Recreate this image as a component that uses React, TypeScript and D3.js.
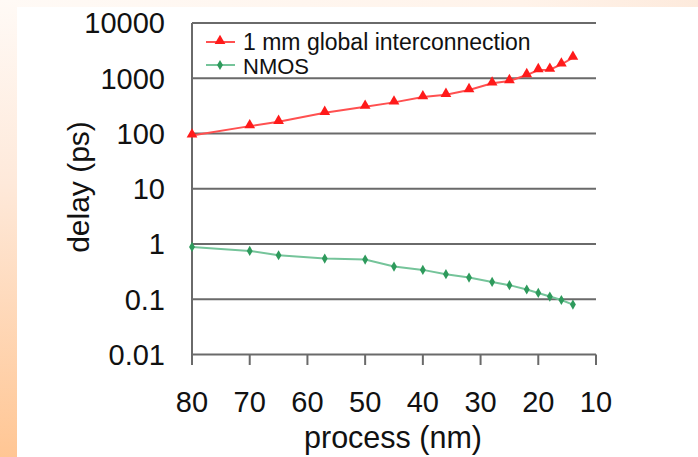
import React from "react";
import * as d3 from "d3";

const processNm = [80, 70, 65, 57, 50, 45, 40, 36, 32, 28, 25, 22, 20, 18, 16, 14];
const interconnectDelay = [92, 136, 163, 237, 305, 366, 456, 502, 611, 809, 890, 1143, 1408, 1427, 1778, 2350];
const nmosDelay = [0.885, 0.75, 0.626, 0.545, 0.523, 0.391, 0.34, 0.284, 0.247, 0.206, 0.18, 0.15, 0.13, 0.112, 0.097, 0.08];
const yTicks = [10000, 1000, 100, 10, 1, 0.1, 0.01];
const yTickLabels = ["10000", "1000", "100", "10", "1", "0.1", "0.01"];
const xTicks = [80, 70, 60, 50, 40, 30, 20, 10];
const seriesNames = ["1 mm global interconnection", "NMOS"];

const W = 698;
const H = 457;
const FONT = "'Liberation Sans', Arial, sans-serif";

export default function App() {
  const x = d3.scaleLinear().domain([80, 10]).range([192, 596]);
  const y = d3.scaleLog().domain([0.01, 10000]).range([354.5, 23]);

  const line = d3
    .line<[number, number]>()
    .x((d) => x(d[0]))
    .y((d) => y(d[1]));

  const redPts: [number, number][] = processNm.map((p, i) => [p, interconnectDelay[i]]);
  const greenPts: [number, number][] = processNm.map((p, i) => [p, nmosDelay[i]]);

  const tri = d3.symbol().type(d3.symbolTriangle).size(50)()!;
  const dia = d3.symbol().type(d3.symbolDiamond).size(30)()!;

  const red = "#ff1a1a";
  const redLine = "#ff5050";
  const green = "#2e9a5c";
  const greenLine = "#75c49a";
  const grid = "#6a6a6a";

  return (
    <svg width={W} height={H} style={{ position: "absolute", left: 0, top: 0 }} fontFamily={FONT}>
      <defs>
        <linearGradient id="leftGrad" x1="0" y1="0" x2="0" y2="1">
          <stop offset="0" stopColor="#fffaf6" />
          <stop offset="0.4" stopColor="#fee9da" />
          <stop offset="1" stopColor="#ffc694" />
        </linearGradient>
        <linearGradient id="topGrad" x1="0" y1="0" x2="1" y2="0">
          <stop offset="0" stopColor="#fffaf6" />
          <stop offset="0.75" stopColor="#fff3ea" />
          <stop offset="1" stopColor="#fdeadc" />
        </linearGradient>
      </defs>
      <rect x={0} y={0} width={W} height={H} fill="#ffffff" />
      <rect x={0} y={0} width={W} height={7} fill="url(#topGrad)" />
      <rect x={0} y={0} width={17} height={H} fill="url(#leftGrad)" />

      {/* gridlines */}
      {yTicks.map((t) => (
        <line key={t} x1={x(80)} x2={x(10)} y1={y(t)} y2={y(t)} stroke={grid} strokeWidth={2} />
      ))}
      {/* left axis */}
      <line x1={x(80)} x2={x(80)} y1={y(10000)} y2={365} stroke={grid} strokeWidth={2} />
      {/* x ticks */}
      {xTicks.map((t) => (
        <line key={t} x1={x(t)} x2={x(t)} y1={y(0.01)} y2={365} stroke={grid} strokeWidth={2} />
      ))}

      {/* y tick labels */}
      {yTicks.map((t, i) => (
        <text key={t} x={165} y={y(t)} dy="0.36em" textAnchor="end" fontSize={29} fill="#111">
          {yTickLabels[i]}
        </text>
      ))}
      {/* x tick labels */}
      {xTicks.map((t) => (
        <text key={t} x={x(t)} y={402} dy="0.36em" textAnchor="middle" fontSize={29} fill="#111">
          {t}
        </text>
      ))}

      {/* axis titles */}
      <text x={393} y={448} textAnchor="middle" fontSize={30.5} fill="#111">
        process (nm)
      </text>
      <text transform={`translate(89,187) rotate(-90)`} textAnchor="middle" fontSize={30} fill="#111">
        delay (ps)
      </text>

      {/* series */}
      <path d={line(greenPts)!} fill="none" stroke={greenLine} strokeWidth={2} />
      {greenPts.map((d, i) => (
        <path key={i} d={dia} transform={`translate(${x(d[0])},${y(d[1])})`} fill={green} />
      ))}
      <path d={line(redPts)!} fill="none" stroke={redLine} strokeWidth={2} />
      {redPts.map((d, i) => (
        <path key={i} d={tri} transform={`translate(${x(d[0])},${y(d[1]) - 1})`} fill={red} />
      ))}

      {/* legend */}
      <line x1={206} x2={235} y1={42} y2={42} stroke={redLine} strokeWidth={2} />
      <path d={tri} transform="translate(220,41)" fill={red} />
      <text x={243} y={50} fontSize={23} fill="#111">
        {seriesNames[0]}
      </text>
      <line x1={206} x2={235} y1={65} y2={65} stroke={greenLine} strokeWidth={2} />
      <path d={dia} transform="translate(220,65)" fill={green} />
      <text x={243} y={73.5} fontSize={22} fill="#111">
        {seriesNames[1]}
      </text>
    </svg>
  );
}
